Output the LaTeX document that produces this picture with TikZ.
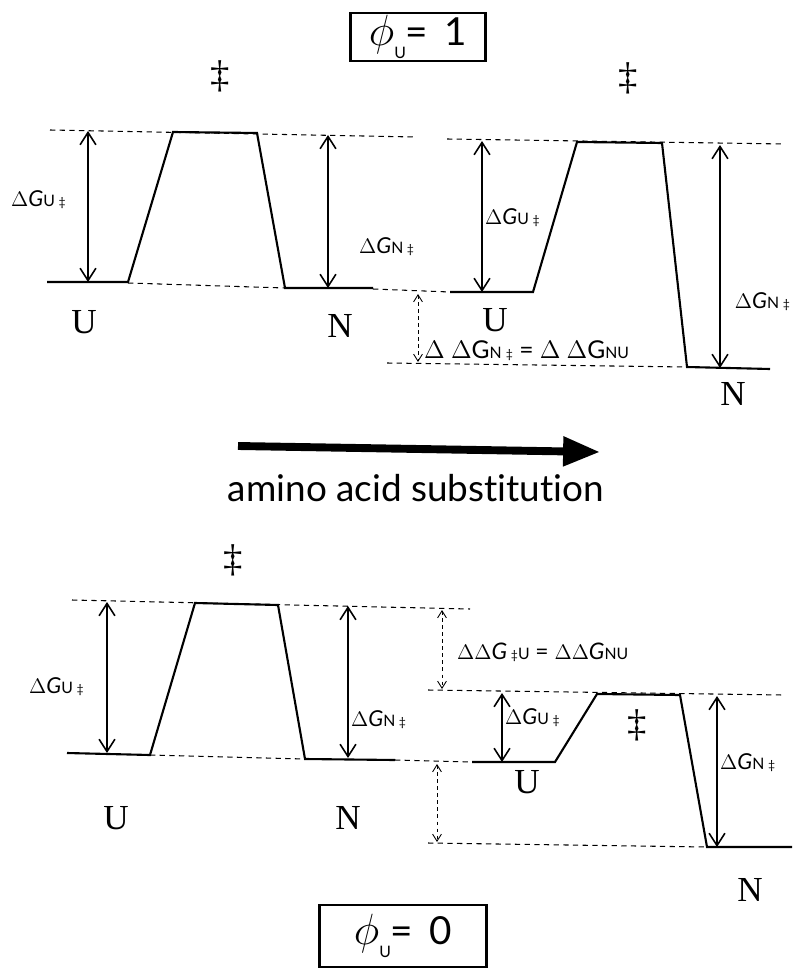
\documentclass[tikz,border=0pt]{standalone}
\usepackage{fontspec}
\setmainfont{Lato}[Ligatures=NoCommon]
\newfontfamily\statefont{Liberation Serif}
\usetikzlibrary{arrows.meta}

\newcommand{\dG}[1]{$\Delta$\textit{G}{\small #1}\,{\scriptsize ‡}}

\begin{document}
\begin{tikzpicture}[
  x=0.02cm, y=-0.02cm,
  font=\fontsize{12.5}{15}\selectfont,
  profile/.style={line width=1.2pt},
  guide/.style={line width=0.6pt, dash pattern=on 3pt off 2.5pt},
  levelarrow/.style={line width=0.9pt, {Straight Barb[length=7pt,width=9pt]}-{Straight Barb[length=7pt,width=9pt]}},
  shiftarrow/.style={line width=0.5pt, dash pattern=on 2pt off 2pt, {Straight Barb[length=4pt,width=5pt]}-{Straight Barb[length=4pt,width=5pt]}},
  statelabel/.style={font=\statefont\fontsize{20}{24}\selectfont},
  tslabel/.style={font=\statefont\fontsize{22}{26}\selectfont},
  phibox/.style={draw, line width=1.2pt, inner sep=0pt}
]
\useasboundingbox (0,0) rectangle (792,969);

% ---- phi_U boxes ----
\node[phibox, minimum width=2.7cm, minimum height=0.96cm] (phione) at (418,37)
  {{\fontsize{26}{30}\selectfont$\phi$}{\fontsize{9}{10}\selectfont\raisebox{-1.6ex}{U}}{\fontsize{22}{26}\selectfont= \,1}};
\node[phibox, minimum width=3.34cm, minimum height=1.24cm] (phizero) at (403,936)
  {{\fontsize{26}{30}\selectfont$\phi$}{\fontsize{9}{10}\selectfont\raisebox{-1.6ex}{U}}{\fontsize{22}{26}\selectfont= \,0}};

% ---- top left: wild type ----
\draw[guide] (50,130) -- (415,137);
\draw[guide] (128,283) -- (285,288);
\draw[guide] (373,289) -- (450,292);
\draw[profile] (47,282) -- (128,282) -- (173,132) -- (257,133) -- (285,288) -- (373,288);
\coordinate (tlUa) at (88,131);  \coordinate (tlUb) at (88,282);
\coordinate (tlNa) at (328,135); \coordinate (tlNb) at (328,288);
\draw[levelarrow] (tlUa) -- (tlUb);
\draw[levelarrow] (tlNa) -- (tlNb);
\node[anchor=west, inner sep=1pt] (tlgu) at (9,200) {\dG{U}};
\node[anchor=west, inner sep=1pt] (tlgn) at (357,247) {\dG{N}};
\node[statelabel] (tlU) at (84,322) {U};
\node[statelabel] (tlN) at (340,326) {N};
\node[tslabel] (tlts) at (220,76) {‡};

% ---- top right: mutant, phi_U = 1 ----
\draw[guide] (447,139) -- (785,144);
\draw[guide] (387,363) -- (687,367);
\draw[profile] (450,292) -- (533,292) -- (577,142) -- (662,143) -- (687,367) -- (770,369);
\coordinate (trUa) at (482,141); \coordinate (trUb) at (482,292);
\coordinate (trNa) at (720,145); \coordinate (trNb) at (720,368);
\coordinate (trSa) at (418,294); \coordinate (trSb) at (418,362);
\draw[levelarrow] (trUa) -- (trUb);
\draw[levelarrow] (trNa) -- (trNb);
\draw[shiftarrow] (trSa) -- (trSb);
\node[anchor=west, inner sep=1pt] (trgu) at (483,218) {\dG{U}};
\node[anchor=east, inner sep=1pt] (trgn) at (792,302) {\dG{N}};
\node[anchor=west, inner sep=1pt, font=\fontsize{14}{16}\selectfont] (trdd) at (422,351)
  {$\Delta$ $\Delta$G{\small N}\,{\scriptsize ‡} = $\Delta$ $\Delta$G{\small NU}};
\node[statelabel] (trU) at (495,320) {U};
\node[statelabel] (trN) at (733,394) {N};
\node[tslabel] (trts) at (628,78) {‡};

% ---- thick arrow ----
\coordinate (subsa) at (238,446);
\coordinate (subsb) at (600,452);
\draw[line width=4.5pt, -{Triangle[length=21pt,width=16pt]}] (subsa) -- (subsb);
\node[font=\fontsize{21}{25}\selectfont] (subs) at (416,488) {amino acid substitution};

% ---- bottom left: wild type ----
\draw[guide] (72,600) -- (470,609);
\draw[guide] (150,755) -- (305,759);
\draw[guide] (395,760) -- (472,762);
\draw[profile] (67,753) -- (150,755) -- (195,603) -- (278,605) -- (305,759) -- (395,760);
\coordinate (blUa) at (107,602); \coordinate (blUb) at (107,753);
\coordinate (blNa) at (348,606); \coordinate (blNb) at (348,758);
\draw[levelarrow] (blUa) -- (blUb);
\draw[levelarrow] (blNa) -- (blNb);
\node[anchor=west, inner sep=1pt] (blgu) at (27,687) {\dG{U}};
\node[anchor=west, inner sep=1pt] (blgn) at (349,720) {\dG{N}};
\node[statelabel] (blU) at (116,818) {U};
\node[statelabel] (blN) at (348,818) {N};
\node[tslabel] (blts) at (233,560) {‡};

% ---- bottom right: mutant, phi_U = 0 ----
\draw[guide] (428,690) -- (783,695);
\draw[guide] (428,843) -- (707,847);
\draw[profile] (472,762) -- (555,762) -- (597,694) -- (680,695) -- (707,847) -- (792,847);
\coordinate (brUa) at (502,693); \coordinate (brUb) at (502,762);
\coordinate (brNa) at (717,696); \coordinate (brNb) at (717,847);
\coordinate (brSa) at (442,610); \coordinate (brSb) at (442,689);
\coordinate (brTa) at (437,764); \coordinate (brTb) at (437,842);
\draw[levelarrow] (brUa) -- (brUb);
\draw[levelarrow] (brNa) -- (brNb);
\draw[shiftarrow] (brSa) -- (brSb);
\draw[shiftarrow] (brTa) -- (brTb);
\node[anchor=west, inner sep=1pt] (brgu) at (503,718) {\dG{U}};
\node[anchor=west, inner sep=1pt] (brgn) at (718,763) {\dG{N}};
\node[anchor=west, inner sep=1pt, font=\fontsize{13}{15}\selectfont] (brdd) at (455,652)
  {$\Delta\Delta$\textit{G}\,{\scriptsize ‡}{\small U} = $\Delta\Delta$\textit{G}{\small NU}};
\node[statelabel] (brU) at (527,782) {U};
\node[statelabel] (brN) at (750,890) {N};
\node[tslabel] (brts) at (637,725) {‡};
\end{tikzpicture}
\end{document}
